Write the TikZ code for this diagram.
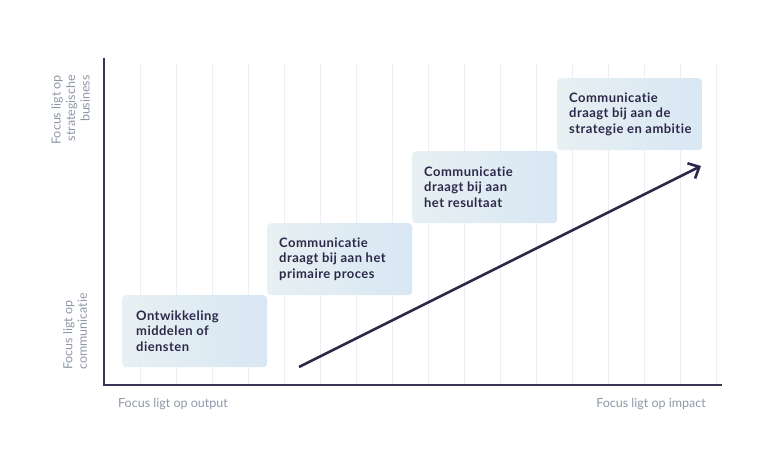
\documentclass[tikz,border=0pt]{standalone}
\usepackage{fontspec}
\setmainfont{Lato}[Ligatures=NoCommon]
\usetikzlibrary{positioning,arrows.meta}
\definecolor{navy}{HTML}{2C2849}
\definecolor{axisnavy}{HTML}{3A3458}
\definecolor{labelgrey}{HTML}{8E97A6}
\definecolor{gridgrey}{HTML}{ECEEF3}
\definecolor{boxleft}{HTML}{E7F0F2}
\definecolor{boxright}{HTML}{D9E7F4}
\begin{document}
\begin{tikzpicture}[
      x=1pt, y=-1pt,
      stepbox/.style={rounded corners=4pt, left color=boxleft, right color=boxright,
        minimum width=145pt, minimum height=72pt, anchor=north west, inner sep=0pt},
      boxtext/.style={align=left,
        font=\fontsize{13}{15.5}\selectfont\bfseries\addfontfeature{LetterSpace=3.5},
        text=navy, inner sep=0pt, anchor=west},
      axislabel/.style={font=\fontsize{12.5}{14.5}\selectfont, text=labelgrey, inner sep=0pt},
      axis/.style={line width=2.6pt, draw=axisnavy},
      arrow/.style={-{Straight Barb[length=9pt, width=17pt, line width=2.6pt]},
        line width=2.6pt, draw=navy}
    ]
    \useasboundingbox (0,0) rectangle (770,460);

    % Grid
    \foreach \gx in {0,...,16}
      \draw[gridgrey, line width=0.9pt] (140+36*\gx,64) -- (140+36*\gx,385);

    % Steps
    \node[stepbox] (step1) at (122,295) {};
    \node[stepbox] (step2) at (267,223) {};
    \node[stepbox] (step3) at (412,151) {};
    \node[stepbox] (step4) at (557,78) {};
    \node[boxtext, right=14pt of step1.west] (text1) {Ontwikkeling\\middelen of\\diensten};
    \node[boxtext, right=12pt of step2.west] (text2) {Communicatie\\draagt bij aan het\\primaire proces};
    \node[boxtext, right=12pt of step3.west] (text3) {Communicatie\\draagt bij aan\\het resultaat};
    \node[boxtext, right=12pt of step4.west] (text4) {Communicatie\\draagt bij aan de\\strategie en ambitie};

    % Axes
    \coordinate (origin) at (104,385);
    \coordinate (ytop) at (104,58);
    \coordinate (xend) at (722,385);
    \draw[axis] (ytop) -- (origin) -- (xend);

    % Growth arrow
    \coordinate (low) at (299,367);
    \coordinate (high) at (701,166);
    \draw[arrow] (low) -- (high);

    % Axis labels
    \node[axislabel, anchor=west] (output) at (118,404) {Focus ligt op output};
    \node[axislabel, anchor=east] (impact) at (706,404) {Focus ligt op impact};
    \node[axislabel, rotate=90, align=right, anchor=east] (business) at (70.5,75)
      {Focus ligt op\\strategische\\business};
    \node[axislabel, rotate=90, align=left, anchor=west] (comm) at (75,370)
      {Focus ligt op\\communicatie};
  \end{tikzpicture}
\end{document}
